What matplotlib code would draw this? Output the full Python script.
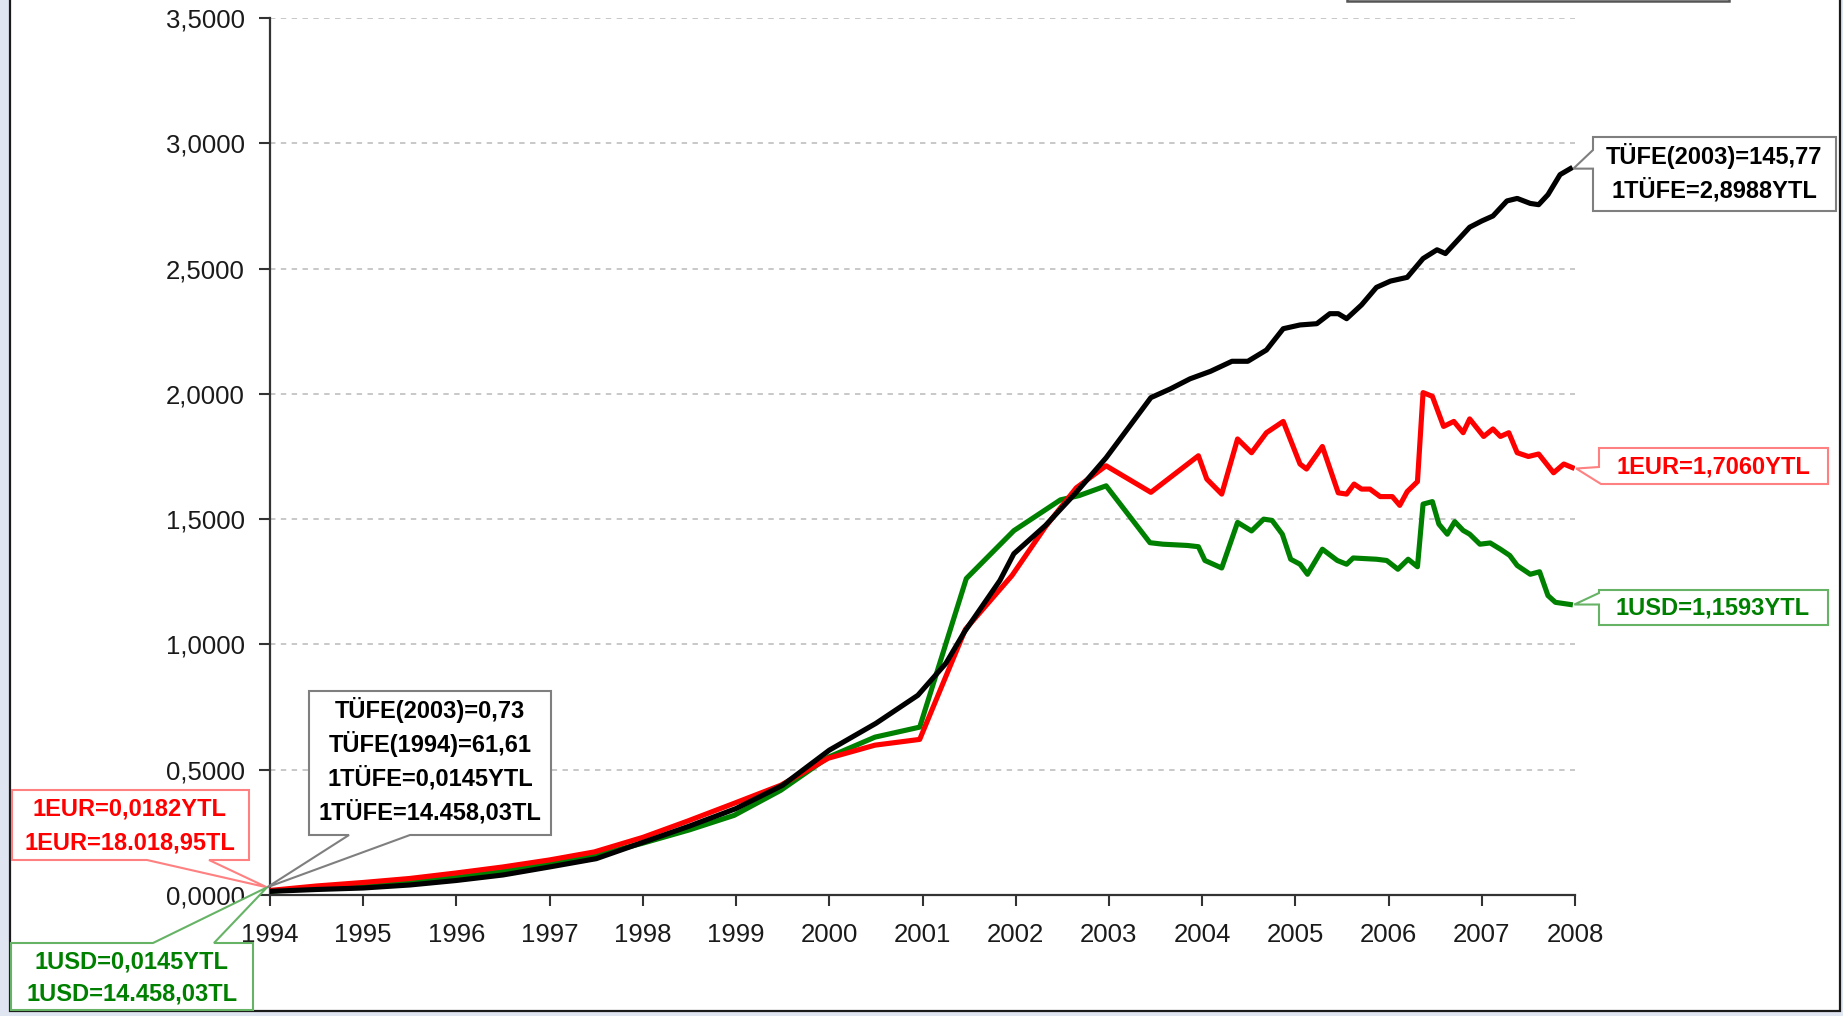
import matplotlib
matplotlib.use("Agg")
import matplotlib.pyplot as plt
from matplotlib.patches import Polygon, Rectangle
from matplotlib.ticker import FuncFormatter, MultipleLocator

plt.rcParams['font.family'] = ['Liberation Sans', 'DejaVu Sans']

# x positions are decimal years, values are YTL
years = list(range(1994, 2009))

tufe_t = [1994.00, 1994.50, 1995.00, 1995.50, 1996.00, 1996.50, 1997.00, 1997.50,
          1998.00, 1998.50, 1999.00, 1999.50, 2000.00, 2000.50, 2000.95, 2001.25,
          2001.45, 2001.83, 2001.98, 2002.32, 2002.65, 2002.97, 2003.26, 2003.45,
          2003.66, 2003.87, 2004.09, 2004.32, 2004.49, 2004.69, 2004.87, 2005.05,
          2005.23, 2005.37, 2005.46, 2005.55, 2005.71, 2005.87, 2006.02, 2006.20,
          2006.37, 2006.52, 2006.61, 2006.87, 2007.00, 2007.12, 2007.27, 2007.38,
          2007.52, 2007.61, 2007.71, 2007.84, 2007.95]
tufe_v = [0.0145, 0.022, 0.028, 0.040, 0.058, 0.080, 0.112, 0.145,
          0.210, 0.275, 0.345, 0.438, 0.578, 0.685, 0.797, 0.924,
          1.050, 1.255, 1.362, 1.475, 1.607, 1.745, 1.890, 1.985,
          2.020, 2.060, 2.090, 2.130, 2.130, 2.175, 2.260, 2.275,
          2.280, 2.320, 2.320, 2.300, 2.355, 2.425, 2.450, 2.465,
          2.540, 2.575, 2.560, 2.665, 2.690, 2.710, 2.770, 2.780,
          2.760, 2.755, 2.795, 2.875, 2.8988]

eur_t = [1994.00, 1994.50, 1995.00, 1995.50, 1996.00, 1996.50, 1997.00, 1997.48,
         1998.00, 1998.48, 1998.98, 1999.48, 1999.99, 2000.49, 2000.97, 2001.46,
         2001.96, 2002.32, 2002.65, 2002.97, 2003.45, 2003.96, 2004.05, 2004.21,
         2004.38, 2004.53, 2004.69, 2004.87, 2005.05, 2005.12, 2005.29, 2005.46,
         2005.55, 2005.63, 2005.71, 2005.80, 2005.91, 2006.04, 2006.12, 2006.20,
         2006.31, 2006.37, 2006.47, 2006.59, 2006.70, 2006.80, 2006.87, 2007.02,
         2007.12, 2007.20, 2007.29, 2007.38, 2007.50, 2007.61, 2007.77, 2007.88,
         2007.97]
eur_v = [0.0182, 0.036, 0.050, 0.066, 0.088, 0.112, 0.140, 0.172,
         0.230, 0.295, 0.366, 0.438, 0.546, 0.598, 0.621, 1.060,
         1.275, 1.470, 1.625, 1.713, 1.607, 1.753, 1.660, 1.600,
         1.820, 1.765, 1.845, 1.890, 1.720, 1.700, 1.790, 1.605,
         1.600, 1.640, 1.620, 1.620, 1.590, 1.590, 1.555, 1.610,
         1.650, 2.005, 1.990, 1.870, 1.890, 1.845, 1.900, 1.830,
         1.860, 1.830, 1.845, 1.765, 1.750, 1.760, 1.685, 1.720,
         1.706]

usd_t = [1994.00, 1994.50, 1995.00, 1995.50, 1996.00, 1996.50, 1997.00, 1997.50,
         1998.00, 1998.50, 1998.98, 1999.48, 1999.99, 2000.49, 2000.97, 2001.47,
         2001.98, 2002.48, 2002.68, 2002.97, 2003.44, 2003.58, 2003.84, 2003.96,
         2004.03, 2004.21, 2004.38, 2004.53, 2004.66, 2004.75, 2004.86, 2004.95,
         2005.05, 2005.13, 2005.29, 2005.45, 2005.55, 2005.62, 2005.87, 2005.98,
         2006.10, 2006.21, 2006.31, 2006.37, 2006.47, 2006.54, 2006.63, 2006.71,
         2006.80, 2006.87, 2006.98, 2007.09, 2007.20, 2007.30, 2007.38, 2007.52,
         2007.62, 2007.71, 2007.79, 2007.95]
usd_v = [0.0145, 0.030, 0.040, 0.052, 0.070, 0.094, 0.125, 0.158,
         0.207, 0.260, 0.318, 0.418, 0.550, 0.630, 0.670, 1.263,
         1.454, 1.577, 1.594, 1.633, 1.406, 1.400, 1.395, 1.390,
         1.335, 1.305, 1.487, 1.453, 1.500, 1.495, 1.440, 1.340,
         1.320, 1.280, 1.380, 1.335, 1.320, 1.345, 1.340, 1.335,
         1.300, 1.340, 1.310, 1.560, 1.570, 1.480, 1.440, 1.490,
         1.455, 1.440, 1.400, 1.405, 1.380, 1.355, 1.315, 1.280,
         1.290, 1.195, 1.168, 1.1593]

W, H = 1843, 1016
fig = plt.figure(figsize=(W / 100, H / 100), dpi=100)
fig.patch.set_facecolor('#dfe5f1')

# white chart area with its frame (pixel coords, y down)
ov = fig.add_axes([0, 0, 1, 1], zorder=0)
ov.set_xlim(0, W)
ov.set_ylim(H, 0)
ov.axis('off')
ov.add_patch(Rectangle((10, -20), 1830, 1031, facecolor='white',
                       edgecolor='#1a1a1a', lw=1.6))
ov.add_patch(Rectangle((1347, -60), 382, 61, facecolor='white',
                       edgecolor='#555555', lw=1.8))

ax = fig.add_axes([270 / W, 1 - 895 / H, (1575 - 270) / W, (895 - 18) / H], zorder=1)
ax.patch.set_alpha(0)

ax.plot(usd_t, usd_v, color='#008000', lw=3.7, zorder=3)
ax.plot(eur_t, eur_v, color='#ff0000', lw=3.7, zorder=4)
ax.plot(tufe_t, tufe_v, color='black', lw=3.7, zorder=5)

ax.set_xlim(1994, 2008)
ax.set_ylim(0, 3.5)
ax.set_xticks(years)
ax.yaxis.set_major_locator(MultipleLocator(0.5))
ax.yaxis.set_major_formatter(FuncFormatter(lambda v, p: f"{v:.4f}".replace('.', ',')))
ax.grid(axis='y', color='#c4c4c4', ls=(0, (3, 3)), lw=1.3, zorder=0)
for s in ['top', 'right']:
    ax.spines[s].set_visible(False)
for s in ['left', 'bottom']:
    ax.spines[s].set_color('#333333')
    ax.spines[s].set_linewidth(1.6)
ax.tick_params(direction='out', length=8, width=1.5, color='#333333',
               labelsize=18.5, labelcolor='#1a1a1a')
ax.tick_params(axis='x', pad=12)
ax.tick_params(axis='y', pad=10)

# callouts drawn on top, in pixel coords
top = fig.add_axes([0, 0, 1, 1], zorder=10)
top.set_xlim(0, W)
top.set_ylim(H, 0)
top.axis('off')


def to_px(x, y, dx=0, dy=0):
    px, py = ax.transData.transform((x, y))
    return px + dx, H - py + dy


def callout(verts, lines, ys, cx, color, edge):
    top.add_patch(Polygon(verts, closed=True, facecolor='white', edgecolor=edge,
                          lw=1.5, joinstyle='miter'))
    for txt, y in zip(lines, ys):
        top.text(cx, y, txt, ha='center', va='center', fontsize=17,
                 fontweight='bold', color=color)


# right side: series ends
tip = to_px(tufe_t[-1], tufe_v[-1], 3, 0)
callout([(1593, 137), (1836, 137), (1836, 211), (1593, 211), (1593, tip[1]),
         tip, (1593, 150)],
        ['TÜFE(2003)=145,77', '1TÜFE=2,8988YTL'], [156, 190], 1714, 'black', '#7f7f7f')

tip = to_px(eur_t[-1], eur_v[-1], 4, 1)
callout([(1599, 448), (1828, 448), (1828, 484), (1601, 484), tip, (1599, 467)],
        ['1EUR=1,7060YTL'], [467], 1713, '#ff0000', '#ff8080')

tip = to_px(usd_t[-1], usd_v[-1], 4, 0)
callout([(1599, 590), (1828, 590), (1828, 625), (1599, 625), (1599, tip[1]),
         tip, (1599, 593)],
        ['1USD=1,1593YTL'], [608], 1713, '#008000', '#66b366')

# left side: series starts
tip = to_px(tufe_t[0], tufe_v[0], -3, -4)
callout([(309, 691), (551, 691), (551, 835), (410, 835), tip, (349, 835), (309, 835)],
        ['TÜFE(2003)=0,73', 'TÜFE(1994)=61,61', '1TÜFE=0,0145YTL', '1TÜFE=14.458,03TL'],
        [710, 744, 778, 812], 430, 'black', '#7f7f7f')

callout([(12, 790), (249, 790), (249, 860), (209, 860), tip, (147, 860), (12, 860)],
        ['1EUR=0,0182YTL', '1EUR=18.018,95TL'], [809, 843], 130, '#ff0000', '#ff8080')

callout([(11, 943), (153, 943), tip, (214, 943), (253, 943), (253, 1010), (11, 1010)],
        ['1USD=0,0145YTL', '1USD=14.458,03TL'], [962, 994], 132, '#008000', '#66b366')

fig.savefig('out.png', dpi=100, facecolor=fig.get_facecolor())
